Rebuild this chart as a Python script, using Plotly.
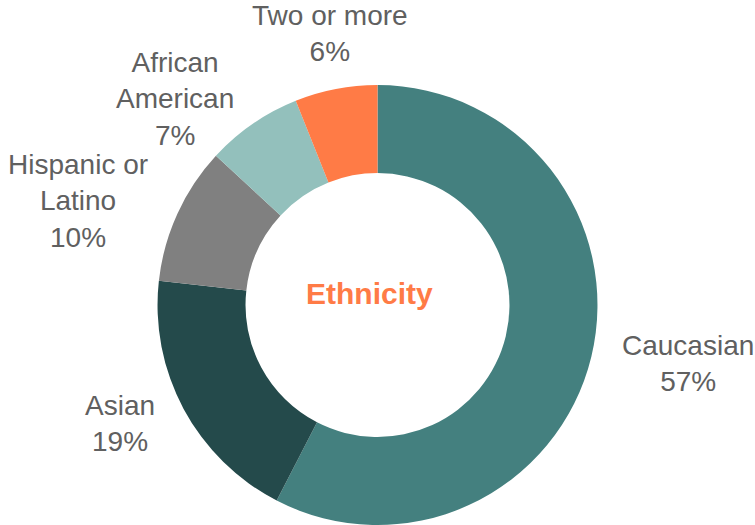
import math
import plotly.graph_objects as go

categories = ["Caucasian", "Asian", "Hispanic or<br>Latino", "African<br>American", "Two or more"]
values = [57, 19, 10, 7, 6]
colors = ["#44807F", "#244A4B", "#808080", "#93C0BC", "#FF7B46"]
center_label = "Ethnicity"

W, H = 755, 525
dom_x = [0.0, 1.0]
dom_y = [0.0, 0.838]
label_font = 28
label_offset = 30  # px from ring edge to label anchor

fig = go.Figure(
    go.Pie(
        labels=categories,
        values=values,
        sort=False,
        direction="clockwise",
        rotation=0,
        hole=0.6,
        marker=dict(colors=colors, line=dict(width=0)),
        textposition="none",
        hoverinfo="label+value",
        showlegend=False,
        domain=dict(x=dom_x, y=dom_y),
    )
)

# pie geometry derived from domain (plotly: radius = half of the smaller domain side)
cx = (dom_x[0] + dom_x[1]) / 2 * W
cy = (1 - (dom_y[0] + dom_y[1]) / 2) * H
r = min((dom_x[1] - dom_x[0]) * W, (dom_y[1] - dom_y[0]) * H) / 2
R = r + label_offset

total = sum(values)
cum = 0.0
for lab, v in zip(categories, values):
    mid = (cum + v / 2) / total * 2 * math.pi
    cum += v
    dx, dy = math.sin(mid), -math.cos(mid)
    px, py = cx + dx * R, cy + dy * R
    ys = 0
    if abs(dx) >= 0.5:
        xa = "left" if dx > 0 else "right"
        ya = "middle"
    else:
        xa = "center"
        ya = "bottom" if dy < 0 else "top"
        ys = -9 if dy < 0 else 0
    fig.add_annotation(
        text=f"{lab}<br>{v}%",
        x=px / W, y=1 - py / H, xref="paper", yref="paper",
        xanchor=xa, yanchor=ya, align="center", yshift=ys,
        showarrow=False,
        font=dict(family="Liberation Sans, Arial, sans-serif", size=label_font, color="#606060"),
    )

fig.add_annotation(
    text=center_label,
    x=cx / W, y=1 - (cy - 12) / H, xref="paper", yref="paper",
    xanchor="center", yanchor="middle", xshift=-8,
    showarrow=False,
    font=dict(family="Liberation Sans, Arial, sans-serif", size=30, color="#FF7B46", weight="bold"),
)

fig.update_layout(
    width=W,
    height=H,
    margin=dict(l=0, r=0, t=0, b=0),
    paper_bgcolor="white",
    plot_bgcolor="white",
)

fig.write_html(
    "out.html",
    config={"displayModeBar": False},
    post_script="document.body.style.margin='0px';",
)
